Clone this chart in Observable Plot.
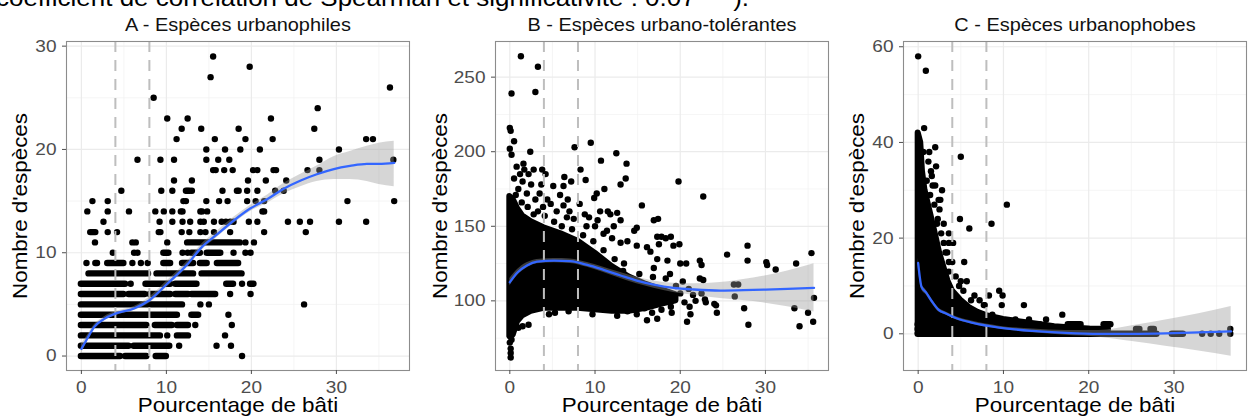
<!DOCTYPE html>
<html><head><meta charset="utf-8">
<script src="https://cdn.jsdelivr.net/npm/d3@7"></script>
<script src="https://cdn.jsdelivr.net/npm/@observablehq/plot@0.6"></script>
<style>
body{margin:0;background:#fff;width:1252px;height:420px;overflow:hidden;position:relative;font-family:"Liberation Sans",Arial,sans-serif;}
#cap{position:absolute;left:-4px;top:-13px;font-size:23.2px;line-height:1;white-space:nowrap;color:#000;transform-origin:0 0;z-index:10;}
.panel{position:absolute;top:0;z-index:1;}
</style></head><body>
<div id="cap">coefficient de corrélation de Spearman et significativité : 0.07 ***).</div>
<div id="pA" class="panel" style="left:0px"></div>
<div id="pB" class="panel" style="left:417px"></div>
<div id="pC" class="panel" style="left:834px"></div>
<script>
// ---------- texts & ticks ----------
const titles = ["A - Espèces urbanophiles", "B - Espèces urbano-tolérantes", "C - Espèces urbanophobes"];
const xLabel = "Pourcentage de bâti";
const yLabel = "Nombre d'espèces";
const xTicks = [0, 10, 20, 30];
const xMinor = [5, 15, 25, 35];
const aYTicks = [0, 10, 20, 30];
const aYMinor = [5, 15, 25];
const bYTicks = [100, 150, 200, 250];
const bYMinor = [75, 125, 175, 225];
const cYTicks = [0, 20, 40, 60];
const cYMinor = [10, 30, 50];
const vLines = [4, 8];

// ---------- Panel A : urbanophiles ----------
// dense runs of overlapping points: [y, xStart, xEnd]
const aRuns = [
  [0, 0, 4.6], [0, 5.2, 7.7], [0, 8.8, 10.0],
  [1, 0, 5.6], [1, 6.2, 10.4],
  [2, 0, 9.3], [2, 11.3, 12.6],
  [3, 0, 7.7], [3, 8.7, 10.7], [3, 11.3, 12.6],
  [4, 0, 11.3], [4, 13.0, 13.8],
  [5, 0, 11.9],
  [6, 0, 5.0], [6, 5.6, 7.5], [6, 8.1, 10.5], [6, 11.1, 12.6], [6, 13.0, 15.8],
  [7, 0, 5.2], [7, 7.6, 10.5], [7, 11.1, 13.6], [7, 17.1, 17.9], [7, 19.9, 20.3],
  [8, 0.9, 7.9], [8, 8.9, 13.2], [8, 14.2, 18.9],
  [9, 1.7, 1.9], [9, 3.1, 5.0], [9, 9.7, 10.5], [9, 11.9, 13.2], [9, 14.0, 14.8], [9, 16.0, 18.5],
  [10, 9.7, 10.3], [10, 13.0, 14.0], [10, 14.8, 16.4],
  [11, 12.5, 18.7],
  [12, 1.1, 1.7]
];
// single points by row: [y, [x...]]
const aRows = [
  [0, [18.9]],
  [1, [11.5, 15.9, 17.6]],
  [2, [10.1, 16.9]],
  [3, [13.4, 17.7]],
  [4, [17.3]],
  [5, [14.0, 15.0, 26.2]],
  [6, [17.5, 19.9]],
  [7, [5.8, 18.9]],
  [9, [0.6, 6.0, 7.0, 7.8]],
  [10, [3.7, 6.2, 6.6, 11.9, 12.5, 17.9, 19.3, 19.9]],
  [11, [1.6, 6.0, 6.4, 10.1, 19.3, 20.3]],
  [12, [3.1, 4.2, 9.1, 9.3, 11.8, 12.7, 14.0, 14.6, 15.6, 17.5, 21.5, 26.4]],
  [13, [2.6, 9.2, 10.7, 11.9, 12.8, 14.0, 14.4, 15.6, 16.5, 17.0, 17.5, 17.9, 19.7, 20.7, 24.3, 25.7, 26.9, 30.3, 33.5]],
  [14, [0.7, 3.1, 5.6, 8.7, 9.7, 10.7, 11.7, 11.9, 14.0, 14.2, 14.8, 21.3, 21.5]],
  [15, [1.3, 3.1, 12.0, 12.3, 14.7, 16.2, 17.2, 19.5, 20.5, 21.5, 31.3, 36.8]],
  [16, [4.7, 9.4, 10.7, 12.3, 12.5, 12.7, 13.0, 16.6, 18.3, 18.5, 19.5, 20.7, 22.8, 23.8]],
  [17, [10.9, 13.0, 19.6, 21.7, 24.1]],
  [18, [15.5, 15.8, 16.8, 17.8, 20.2, 20.7, 22.6, 22.9, 26.6, 28.0]],
  [19, [6.6, 9.3, 10.9, 14.7, 16.1, 17.4, 28.0, 36.7]],
  [20, [14.7, 16.9, 18.7, 21.0, 30.3]],
  [21, [11.2, 15.7, 19.3, 22.5, 33.5, 34.3]],
  [22, [11.8, 14.1, 18.5, 27.4]],
  [23, [10.1, 12.5, 22.3]],
  [24, [27.8]],
  [25, [8.5]],
  [26, [36.3]],
  [27, [15.2]],
  [28, [19.8]],
  [29, [15.5]]
];
// loess fit: [x, fit, lower, upper]
const aSmooth = [
  [0, 0.7, 0.2, 1.2], [0.7, 1.7, 1.4, 2.0], [1.5, 2.8, 2.6, 3.0], [2.7, 3.6, 3.4, 3.8],
  [4.0, 4.1, 3.9, 4.3], [6.2, 4.6, 4.4, 4.8], [8.0, 5.4, 5.1, 5.7], [10.1, 7.0, 6.7, 7.3],
  [12.5, 8.9, 8.6, 9.2], [14.0, 10.4, 10.1, 10.7], [16.0, 11.8, 11.5, 12.1], [17.9, 13.1, 12.8, 13.4],
  [19.9, 14.3, 14.0, 14.6], [21.9, 15.2, 14.8, 15.6], [23.8, 16.2, 15.7, 16.7], [25.8, 17.0, 16.4, 17.6],
  [27.7, 17.6, 16.9, 18.4], [29.7, 18.1, 17.1, 19.3], [31.6, 18.4, 17.1, 19.8], [33.6, 18.6, 16.9, 20.3],
  [35.0, 18.6, 16.6, 20.6], [36.8, 18.7, 16.4, 20.8]
];

// ---------- Panel B : urbano-tolérantes ----------
// dense core of overlapping points: [x, low, high]
const bCore = [
  [0, 76, 170], [0.4, 77, 168], [0.9, 86, 162], [1.5, 90, 157], [2.5, 93, 153], [4, 95, 149],
  [6, 95, 145], [8, 95, 140], [10, 94, 132], [12, 93, 123], [14, 93, 116], [16, 95, 111],
  [18, 98, 107], [19.5, 100, 104]
];
const bPoints = [
  [1.3, 264], [3.3, 257], [0.2, 239], [3.0, 240], [0, 216], [0.1, 214], [0.5, 207], [0, 202], [0.2, 198],
  [2.4, 200], [7.6, 203], [9.5, 206], [12.5, 199], [13.7, 192], [10.7, 194], [1.6, 192], [1.7, 188],
  [2.8, 188], [3.8, 188], [4.2, 185], [8.3, 188], [6.4, 183], [5.1, 177], [6.3, 177], [3.7, 178],
  [8.9, 181], [11.1, 175], [13.6, 182], [13.0, 178], [15.5, 164], [5.9, 171], [6.3, 164], [8.2, 165],
  [9.9, 169], [4.4, 168], [19.8, 180], [22.7, 170], [17.4, 155], [16.9, 154], [17.8, 143], [18.3, 142],
  [18.9, 143], [19.9, 138], [27.9, 137], [25.5, 131], [35.4, 132], [27.9, 127], [22.3, 127], [22.5, 124],
  [20.7, 125], [30.1, 126], [30.2, 124], [31.2, 121], [33.6, 125], [22.3, 115], [26.3, 111], [26.8, 111],
  [26.4, 103], [35.7, 102], [27.5, 95], [33.4, 95], [35.0, 92], [24.3, 92], [28.0, 84], [34.0, 83],
  [35.6, 86], [22.9, 101], [24.0, 98], [21.1, 96], [20.8, 86], [21.2, 91], [22.7, 114],
  [14.9, 149], [14.6, 147], [13.8, 140], [13.0, 139], [11.4, 147], [10.3, 154], [11.8, 158], [10.6, 160],
  [9.3, 156], [12.6, 159], [13.0, 154], [17.3, 143], [17.5, 138], [19.2, 137], [16.1, 136], [16.5, 133],
  [14.9, 137], [18.5, 127], [17.3, 128], [16.9, 122], [20.0, 125], [18.8, 118], [18.3, 115], [14.9, 91],
  [16.1, 87], [17.3, 88], [15.3, 96], [13.8, 93], [12.6, 90], [9.7, 91], [6.9, 93], [4.6, 91], [18.9, 96],
  [12.5, 100], [13.0, 105], [13.5, 110], [14.0, 98], [14.5, 103], [15.0, 108], [15.5, 100], [16.0, 104],
  [16.5, 98], [17.0, 101], [17.5, 106], [18.0, 99], [18.5, 103], [19.0, 100], [19.5, 110], [20.0, 105],
  [20.5, 99], [21.0, 108], [19.0, 92], [17.8, 94], [16.7, 92], [15.8, 95], [14.2, 95], [13.3, 120],
  [15.2, 118], [16.8, 116], [12.4, 115], [20.3, 113], [21.8, 100], [22.5, 105], [23.0, 99], [24.2, 97],
  [21.5, 104], [1.0, 175], [1.5, 180], [2.0, 172], [2.5, 178], [3.0, 168], [3.5, 172], [4.8, 165],
  [5.5, 160], [7.0, 160], [7.5, 155], [8.8, 158], [9.0, 150], [10.0, 150], [11.0, 145], [12.0, 142],
  [2.2, 185], [1.2, 185], [0.5, 182], [0.8, 190], [6.8, 168], [7.2, 180], [10.2, 172], [11.5, 160],
  [12.2, 150], [0.1, 68], [0.1, 65], [0.1, 62], [1.0, 82], [1.5, 83], [2.2, 84], [5.3, 92], [0, 72], [0.2, 74],
  [0.7, 171], [1.4, 166], [2.1, 163], [3.3, 160], [4.1, 157], [5.2, 153], [6.1, 150], [7.3, 148],
  [8.6, 144], [9.8, 140], [11.0, 134], [12.3, 128], [13.4, 125], [3.9, 163], [6.7, 156], [2.8, 158]
];
const bSmooth = [
  [0, 112.5, 110, 115], [0.9, 119, 117, 121], [2.0, 123.7, 122, 125.5], [3.2, 126.3, 124.8, 127.8],
  [5.2, 127, 125.6, 128.4], [7.1, 126.6, 125.1, 128.1], [9.1, 124.1, 122.5, 125.7], [11, 120.8, 119, 122.6],
  [13, 117, 115, 119], [14.9, 113.6, 111.4, 115.8], [16.9, 110.9, 108.5, 113.3], [19.2, 108.7, 105.6, 111.8],
  [21.6, 107.6, 103.8, 111.4], [24.7, 106.9, 101.5, 112.3], [28.6, 107.4, 99.5, 115.3],
  [32.6, 108, 96, 120], [35.7, 108.7, 92.5, 124.9]
];

// ---------- Panel C : urbanophobes ----------
const cCore = [
  [0, 0, 42], [0.3, 0, 40], [0.5, 0, 34], [0.8, 0, 30], [1.2, 0, 27], [1.6, 0, 24], [2.0, 0, 21],
  [2.5, 0, 17], [3.0, 0, 14], [3.5, 0, 11], [4.0, 0, 9], [5.0, 0, 7], [6.0, 0, 5.5], [7.0, 0, 4.5],
  [8.0, 0, 3.8], [10, 0, 3], [12, 0, 2.5], [14, 0, 2], [16, 0, 1.5], [18, 0, 1.2], [20, 0, 1]
];
const cRuns = [
  [0, 0, 28.0], [0, 29.8, 31.1],
  [1, 0, 19.2], [1, 20.2, 22.3], [1, 25.6, 26.0], [1, 27.3, 27.7],
  [2, 0, 14.3], [2, 17.6, 19.1], [2, 21.8, 22.6]
];
const cPoints = [
  [0, 58], [0.9, 55], [0.7, 43], [2.0, 39], [5.0, 37], [1.2, 36], [2.1, 35], [1.6, 33], [1.7, 31],
  [2.4, 28], [2.6, 28], [2.5, 26], [10.4, 27], [4.9, 24], [6.0, 22], [8.6, 23], [3.0, 23], [2.2, 23],
  [3.6, 21], [3.0, 19], [3.6, 19], [3.4, 17], [3.6, 15], [5.4, 15], [5.7, 11], [4.8, 10], [5.0, 11],
  [9.5, 9], [9.9, 8], [8.3, 8], [7.8, 6], [9.8, 6], [12.4, 6], [11.4, 3], [16.9, 4], [13.0, 3], [15.0, 3],
  [3.0, 13], [3.6, 13], [4.2, 8], [7.7, 6], [8.7, 4], [9.6, 3], [33.3, 0], [34.3, 0], [35.3, 0],
  [36.6, 0], [36.6, 1], [4.1, 19], [2.8, 30], [1.3, 38], [6.6, 8], [7.2, 7],
  [1.0, 32], [1.4, 29], [1.9, 27], [2.3, 24], [2.7, 21], [3.2, 17], [4.4, 12], [4.0, 15], [5.3, 9],
  [6.2, 7], [2.0, 31], [1.5, 34], [0.6, 38]
];
const cSmooth = [
  [0, 14.8, 13.8, 15.8], [0.4, 9.8, 9.2, 10.4], [0.9, 8.7, 8.2, 9.2], [1.6, 6.8, 6.4, 7.2],
  [2.4, 5.0, 4.6, 5.4], [3.2, 4.3, 4.0, 4.6], [4.4, 3.3, 3.0, 3.6], [6.4, 2.3, 2.0, 2.6],
  [9.5, 1.3, 1.0, 1.6], [13.4, 0.6, 0.2, 1.0], [17.3, 0.2, -0.3, 0.7], [21.2, 0.0, -0.7, 0.7],
  [25.1, 0.0, -1.6, 1.7], [29.0, 0.1, -2.6, 2.9], [32.9, 0.3, -3.6, 4.2], [36.7, 0.5, -4.7, 5.7]
];

// ---------- drawing ----------
const STRETCH = 1.12;
const FONT = '"Liberation Sans", Arial, sans-serif';
const flatRows = rows => rows.flatMap(([y, xs]) => xs.map(x => [x, y]));

function runMarks(runs) {
  return Plot.ruleY(runs, {y: d => d[0], x1: d => d[1], x2: d => d[2], stroke: "black", strokeWidth: 6.4, strokeLinecap: "round"});
}
function coreMarks(core) {
  return Plot.areaY(core, {x: d => d[0], y1: d => d[1], y2: d => d[2], fill: "black", stroke: "black", strokeWidth: 6, strokeLinejoin: "round"});
}
function dotMarks(pts) {
  return Plot.dot(pts, {x: d => d[0], y: d => d[1], r: 3.2, fill: "black", stroke: "none"});
}

function panel(cfg) {
  const chart = Plot.plot({
    width: cfg.width, height: 420,
    marginLeft: cfg.ml, marginRight: cfg.mr, marginTop: 41, marginBottom: 50,
    style: {fontFamily: FONT, background: "transparent", overflow: "visible"},
    x: {domain: cfg.xd},
    y: {domain: cfg.yd},
    marks: [
      Plot.frame({fill: "white"}),
      Plot.ruleX(xMinor, {stroke: "#f0f0f0", strokeWidth: 0.7}),
      Plot.ruleY(cfg.yMinor, {stroke: "#f0f0f0", strokeWidth: 0.7}),
      Plot.ruleX(xTicks, {stroke: "#ebebeb", strokeWidth: 1.2}),
      Plot.ruleY(cfg.yTicks, {stroke: "#ebebeb", strokeWidth: 1.2}),
      ...cfg.dataMarks,
      Plot.ruleX(vLines, {stroke: "#bebebe", strokeWidth: 2, strokeDasharray: "11,8"}),
      Plot.areaY(cfg.smooth, {x: d => d[0], y1: d => d[2], y2: d => d[3], fill: "#999999", fillOpacity: 0.4, curve: "monotone-x"}),
      Plot.line(cfg.smooth, {x: d => d[0], y: d => d[1], stroke: "#3366FF", strokeWidth: 2.3, curve: "monotone-x"}),
      Plot.frame({stroke: "#8c8c8c", strokeWidth: 1.1}),
      Plot.axisX({ticks: xTicks, tickSize: 4, tickPadding: 6, fontSize: 17, color: "#4d4d4d", label: null}),
      Plot.axisY({ticks: cfg.yTicks, tickSize: 4, tickPadding: 6, fontSize: 17, color: "#4d4d4d", label: null}),
      Plot.text([cfg.title], {text: d => d, frameAnchor: "top", textAnchor: "middle", dy: -16.5, fontSize: 17.8, fill: "#111", lineAnchor: "middle"}),
      Plot.text([xLabel], {text: d => d, frameAnchor: "bottom", textAnchor: "middle", dy: 35, fontSize: 20, fill: "#000", lineAnchor: "middle"}),
      Plot.text([yLabel], {text: d => d, frameAnchor: "left", textAnchor: "middle", dx: cfg.ylx, rotate: -90, fontSize: 20, fill: "#000", lineAnchor: "middle"})
    ]
  });
  document.getElementById(cfg.el).appendChild(chart);
  stretchText(chart, STRETCH);
}

function stretchText(svg, s) {
  const NS = "http://www.w3.org/2000/svg";
  svg.querySelectorAll("text").forEach(t => {
    const b = t.getBBox();
    const anchor = getComputedStyle(t).textAnchor;
    const cx = anchor === "end" ? b.x + b.width : anchor === "middle" ? b.x + b.width / 2 : b.x;
    const g = document.createElementNS(NS, "g");
    g.setAttribute("transform", (t.getAttribute("transform") || "") + ` translate(${cx},0) scale(${s},1) translate(${-cx},0)`);
    t.removeAttribute("transform");
    t.parentNode.insertBefore(g, t);
    g.appendChild(t);
  });
}

panel({el: "pA", width: 417, ml: 66, mr: 8, xd: [-1.75, 38.6], yd: [-1.4, 30.45],
  yTicks: aYTicks, yMinor: aYMinor, title: titles[0], ylx: -45.5, smooth: aSmooth,
  dataMarks: [runMarks(aRuns), dotMarks(flatRows(aRows))]});
panel({el: "pB", width: 417, ml: 78, mr: 6, xd: [-1.68, 37.4], yd: [53.3, 273.9],
  yTicks: bYTicks, yMinor: bYMinor, title: titles[1], ylx: -55, smooth: bSmooth,
  dataMarks: [coreMarks(bCore), dotMarks(bPoints)]});
panel({el: "pC", width: 418, ml: 69, mr: 6, xd: [-1.72, 38.5], yd: [-7.67, 61.1],
  yTicks: cYTicks, yMinor: cYMinor, title: titles[2], ylx: -46, smooth: cSmooth,
  dataMarks: [coreMarks(cCore), runMarks(cRuns), dotMarks(cPoints)]});

document.getElementById("cap").style.transform = `scaleX(${STRETCH})`;
</script>
</body></html>
